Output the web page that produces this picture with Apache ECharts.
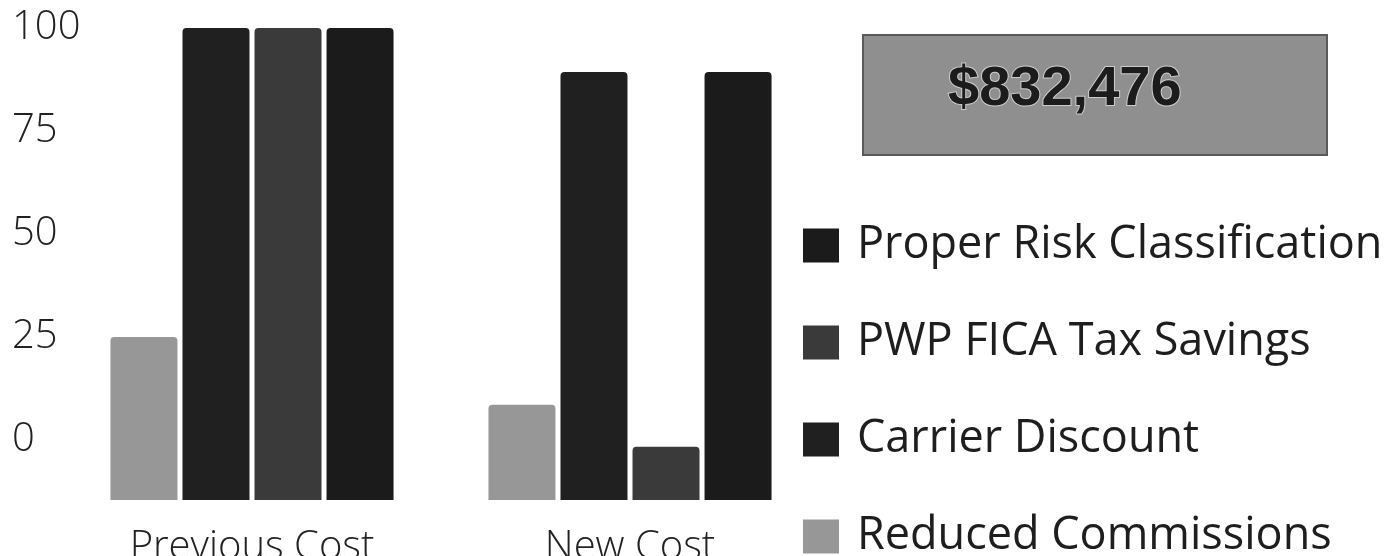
<!DOCTYPE html>
<html>
<head>
<meta charset="utf-8">
<script src="https://cdn.jsdelivr.net/npm/echarts@6/dist/echarts.min.js"></script>
<style>
  html, body { margin: 0; padding: 0; background: #fff; }
  #chart { width: 1388px; height: 556px; }
</style>
</head>
<body>
<div id="chart"></div>
<script>
// categories and series
const categories = ['Previous Cost', 'New Cost'];
const seriesNames = ['Reduced Commissions', 'Carrier Discount', 'PWP FICA Tax Savings', 'Proper Risk Classification'];
const reducedCommissions = [25, 8.5];
const carrierDiscount = [100, 89.3];
const pwpFicaTaxSavings = [100, -1.7];
const properRiskClassification = [100, 89.3];
const yTickValues = [0, 25, 50, 75, 100];
const legendOrder = ['Proper Risk Classification', 'PWP FICA Tax Savings', 'Carrier Discount', 'Reduced Commissions'];
const totalSavings = '$832,476';

const seriesValues = [reducedCommissions, carrierDiscount, pwpFicaTaxSavings, properRiskClassification];
const seriesColors = ['#979797', '#202020', '#3a3a3a', '#1b1b1b'];

// the bars are drawn from the bottom of the plot, below the "0" label
const axisMin = -14.6;

const chart = echarts.init(document.getElementById('chart'));

chart.setOption({
  animation: false,
  backgroundColor: '#fff',
  textStyle: { fontFamily: '"Open Sans", sans-serif' },
  grid: { left: 63, right: 569, top: 28, bottom: 56, containLabel: false, outerBoundsMode: 'none' },
  legend: {
    data: legendOrder,
    orient: 'vertical',
    left: 803,
    top: 223,
    height: 380,
    padding: 0,
    itemWidth: 36,
    itemHeight: 34,
    itemGap: 52,
    icon: 'rect',
    selectedMode: false,
    textStyle: {
      fontFamily: '"Open Sans", sans-serif',
      fontSize: 45,
      lineHeight: 44,
      color: '#1e1e1e',
      padding: [0, 0, 0, 13]
    }
  },
  xAxis: {
    type: 'category',
    data: categories,
    axisLine: { show: false },
    axisTick: { show: false },
    axisLabel: {
      margin: 28,
      fontSize: 40,
      fontWeight: 300,
      color: '#222'
    }
  },
  yAxis: {
    type: 'value',
    min: axisMin,
    max: 100,
    startValue: axisMin,
    splitLine: { show: false },
    axisLine: { show: false },
    axisTick: { show: false },
    axisLabel: {
      customValues: yTickValues,
      align: 'left',
      margin: 51,
      fontSize: 40,
      fontWeight: 300,
      color: '#222'
    }
  },
  series: seriesNames.map((name, i) => ({
    name,
    type: 'bar',
    data: seriesValues[i],
    barWidth: 67,
    barGap: '7.5%',
    itemStyle: { color: seriesColors[i], borderRadius: [4, 4, 0, 0] }
  })),
  graphic: [
    {
      type: 'rect',
      shape: { x: 863, y: 35, width: 464, height: 120 },
      style: { fill: '#8f8f8f', stroke: '#5a5a5a', lineWidth: 2 }
    },
    {
      type: 'text',
      x: 948,
      y: 90,
      style: {
        text: totalSavings,
        fontFamily: '"Liberation Sans", Arial, sans-serif',
        fontWeight: 'bold',
        fontSize: 56,
        fill: '#1c1c1c',
        stroke: 'rgba(215,215,215,0.85)',
        lineWidth: 2,
        verticalAlign: 'middle'
      }
    }
  ]
});
</script>
</body>
</html>
